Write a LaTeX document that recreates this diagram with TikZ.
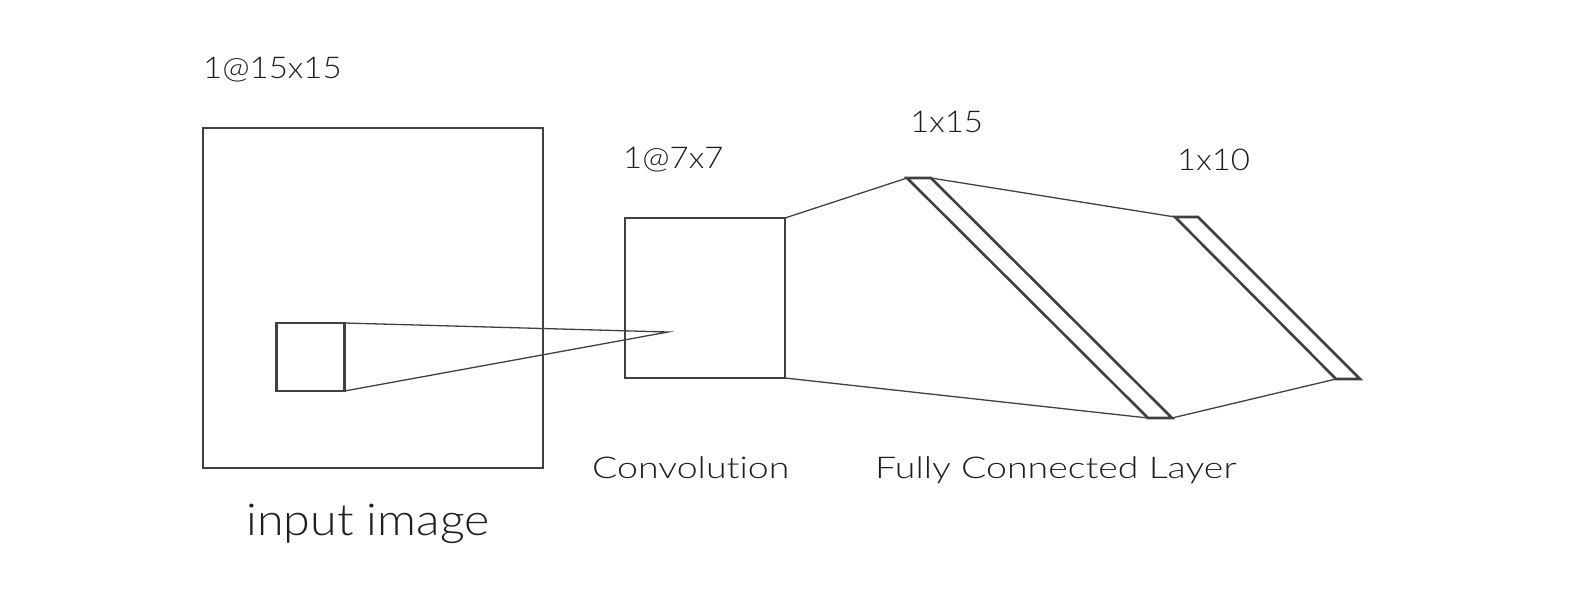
\documentclass[tikz,border=0pt]{standalone}
\usepackage{fontspec}
\setmainfont{Lato Light}[Ligatures={NoCommon,NoRare}]
\newfontfamily\wordfont{Lato Light}[FakeStretch=1.25,Ligatures={NoCommon,NoRare}]
\newfontfamily\numfont{Lato Light}[FakeStretch=1.1,Ligatures={NoCommon,NoRare}]
\newfontfamily\bigfont{Lato Light}[FakeStretch=1.1,Ligatures={NoCommon,NoRare}]
\definecolor{linegray}{HTML}{404040}
\definecolor{textgray}{HTML}{1E1E1E}
\begin{document}
\begin{tikzpicture}[x=1pt,y=-1pt,
  sq/.style={draw=linegray, line width=2.6pt, minimum width=#1, minimum height=#1, inner sep=0pt, outer sep=0pt},
  layer/.style={draw=linegray, line width=2.6pt, line join=miter},
  link/.style={draw=linegray, line width=1.3pt},
  numlbl/.style={text=textgray, inner sep=0pt, anchor=base west, font=\numfont\fontsize{30}{34}\selectfont},
  wordlbl/.style={text=textgray, inner sep=0pt, anchor=base west, font=\wordfont\fontsize{30}{34}\selectfont},
  biglbl/.style={text=textgray, inner sep=0pt, anchor=base, font=\bigfont\fontsize{44}{48}\selectfont}
]
\useasboundingbox (0,0) rectangle (1575,595);
% input image
\node[sq=340pt] (inp) at (373,298) {};
\node[sq=68pt] (patch) at (310.5,357) {};
\coordinate (focus) at (668,332);
% convolution
\node[sq=160pt] (conv) at (705,298) {};
% fully connected layer 1
\coordinate (a1) at (907,178);
\coordinate (a2) at (931,178);
\coordinate (a3) at (1172,418);
\coordinate (a4) at (1148,418);
% fully connected layer 2
\coordinate (b1) at (1175,217);
\coordinate (b2) at (1198,217);
\coordinate (b3) at (1360,379);
\coordinate (b4) at (1336,379);
\draw[layer] (a1) -- (a2) -- (a3) -- (a4) -- cycle;
\draw[layer] (b1) -- (b2) -- (b3) -- (b4) -- cycle;
% connectors
\draw[link] (patch.north east) -- (focus) -- (patch.south east);
\draw[link] (conv.north east) -- (a1);
\draw[link] (conv.south east) -- (a4);
\draw[link] (a2) -- (b1);
\draw[link] (a3) -- (b4);
% labels
\node[numlbl] (t1) at (203,78) {1@15x15};
\node[biglbl] (t2) at (368,535) {input image};
\node[numlbl] (t3) at (623,168) {1@7x7};
\node[wordlbl] (t4) at (592,478) {Convolution};
\node[numlbl] (t5) at (910,132) {1x15};
\node[numlbl] (t6) at (1177,170) {1x10};
\node[wordlbl] (t7) at (875,478) {Fully Connected Layer};
\end{tikzpicture}
\end{document}
